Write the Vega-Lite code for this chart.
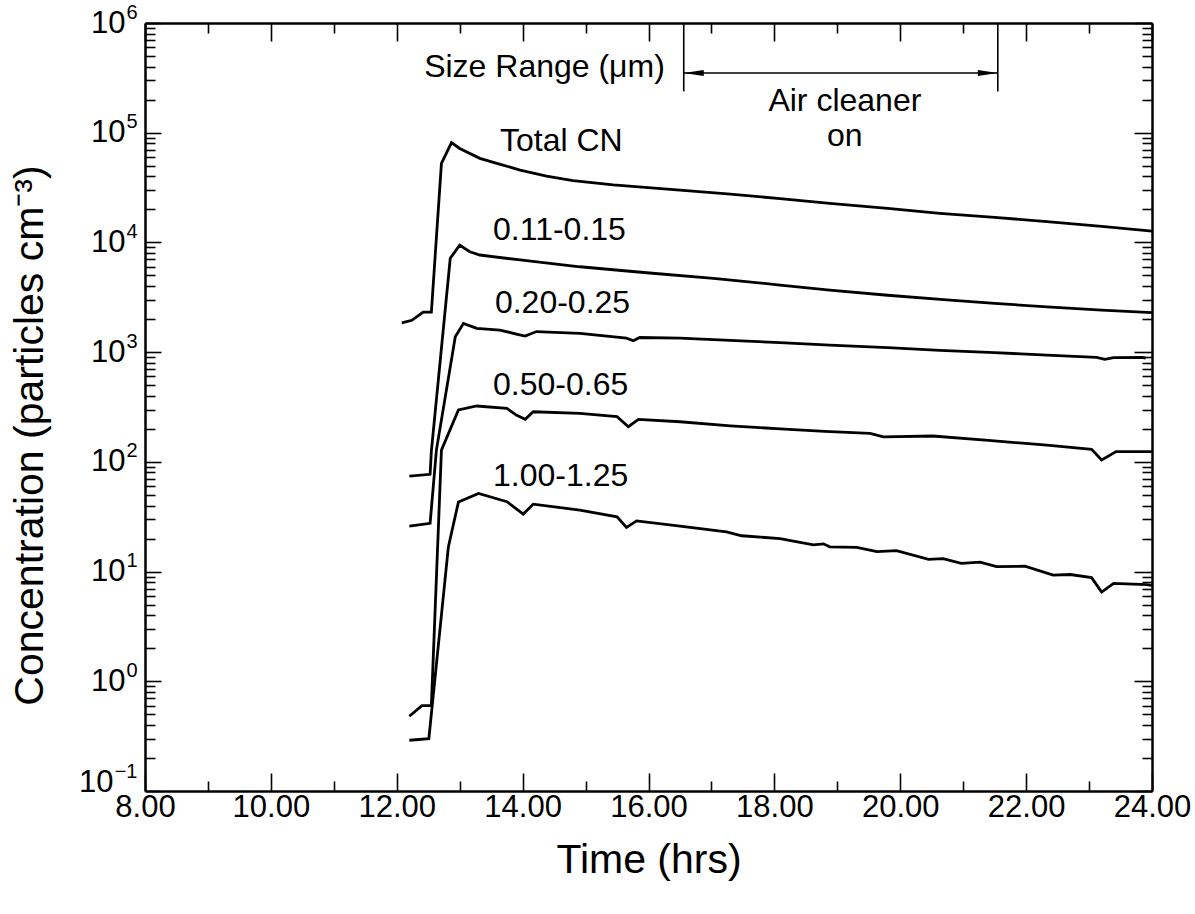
{
  "$schema": "https://vega.github.io/schema/vega-lite/v6.json",
  "width": 1007,
  "height": 768,
  "autosize": {"type": "none"},
  "padding": {"left": 145, "top": 23, "right": 43, "bottom": 123},
  "background": "white",
  "config": {
    "font": "Liberation Sans",
    "view": {"stroke": null},
    "axis": {"grid": false, "domainColor": "black", "tickColor": "black", "labelColor": "black", "titleColor": "black", "labelFont": "Liberation Sans", "titleFont": "Liberation Sans", "labelFontWeight": "normal", "titleFontWeight": "normal", "domainWidth": 2.5, "tickWidth": 1.6}
  },
  "datasets": {
    "series": [
      {"s": "Total CN", "t": 12.08, "c": 1850}, {"s": "Total CN", "t": 12.24, "c": 1950}, {"s": "Total CN", "t": 12.42, "c": 2320}, {"s": "Total CN", "t": 12.55, "c": 2320}, {"s": "Total CN", "t": 12.71, "c": 52600}, {"s": "Total CN", "t": 12.87, "c": 81100}, {"s": "Total CN", "t": 13.0, "c": 71900}, {"s": "Total CN", "t": 13.32, "c": 58400}, {"s": "Total CN", "t": 13.59, "c": 52600}, {"s": "Total CN", "t": 13.96, "c": 45700}, {"s": "Total CN", "t": 14.38, "c": 40300}, {"s": "Total CN", "t": 14.8, "c": 36500}, {"s": "Total CN", "t": 15.44, "c": 33400}, {"s": "Total CN", "t": 16.5, "c": 30000}, {"s": "Total CN", "t": 17.3, "c": 27500}, {"s": "Total CN", "t": 18.09, "c": 25100}, {"s": "Total CN", "t": 18.88, "c": 22700}, {"s": "Total CN", "t": 19.8, "c": 20400}, {"s": "Total CN", "t": 20.63, "c": 18400}, {"s": "Total CN", "t": 21.5, "c": 16900}, {"s": "Total CN", "t": 22.33, "c": 15500}, {"s": "Total CN", "t": 23.2, "c": 14000}, {"s": "Total CN", "t": 24.0, "c": 12700},
      {"s": "0.11-0.15", "t": 12.2, "c": 74}, {"s": "0.11-0.15", "t": 12.53, "c": 77}, {"s": "0.11-0.15", "t": 12.55, "c": 125}, {"s": "0.11-0.15", "t": 12.85, "c": 7170}, {"s": "0.11-0.15", "t": 13.0, "c": 9460}, {"s": "0.11-0.15", "t": 13.16, "c": 8230}, {"s": "0.11-0.15", "t": 13.32, "c": 7680}, {"s": "0.11-0.15", "t": 13.96, "c": 6920}, {"s": "0.11-0.15", "t": 14.91, "c": 6000}, {"s": "0.11-0.15", "t": 15.97, "c": 5290}, {"s": "0.11-0.15", "t": 17.03, "c": 4710}, {"s": "0.11-0.15", "t": 18.09, "c": 4090}, {"s": "0.11-0.15", "t": 18.88, "c": 3680}, {"s": "0.11-0.15", "t": 19.8, "c": 3300}, {"s": "0.11-0.15", "t": 20.74, "c": 2990}, {"s": "0.11-0.15", "t": 21.5, "c": 2780}, {"s": "0.11-0.15", "t": 22.33, "c": 2590}, {"s": "0.11-0.15", "t": 23.2, "c": 2420}, {"s": "0.11-0.15", "t": 24.0, "c": 2290},
      {"s": "0.20-0.25", "t": 12.2, "c": 26}, {"s": "0.20-0.25", "t": 12.53, "c": 27.5}, {"s": "0.20-0.25", "t": 12.63, "c": 128}, {"s": "0.20-0.25", "t": 12.93, "c": 1380}, {"s": "0.20-0.25", "t": 13.06, "c": 1830}, {"s": "0.20-0.25", "t": 13.27, "c": 1650}, {"s": "0.20-0.25", "t": 13.64, "c": 1590}, {"s": "0.20-0.25", "t": 13.9, "c": 1460}, {"s": "0.20-0.25", "t": 14.04, "c": 1400}, {"s": "0.20-0.25", "t": 14.22, "c": 1540}, {"s": "0.20-0.25", "t": 14.91, "c": 1480}, {"s": "0.20-0.25", "t": 15.65, "c": 1340}, {"s": "0.20-0.25", "t": 15.76, "c": 1270}, {"s": "0.20-0.25", "t": 15.86, "c": 1360}, {"s": "0.20-0.25", "t": 16.5, "c": 1340}, {"s": "0.20-0.25", "t": 17.3, "c": 1280}, {"s": "0.20-0.25", "t": 18.09, "c": 1220}, {"s": "0.20-0.25", "t": 18.88, "c": 1160}, {"s": "0.20-0.25", "t": 19.8, "c": 1100}, {"s": "0.20-0.25", "t": 20.63, "c": 1040}, {"s": "0.20-0.25", "t": 21.5, "c": 990}, {"s": "0.20-0.25", "t": 22.33, "c": 940}, {"s": "0.20-0.25", "t": 23.12, "c": 896}, {"s": "0.20-0.25", "t": 23.25, "c": 860}, {"s": "0.20-0.25", "t": 23.39, "c": 890}, {"s": "0.20-0.25", "t": 23.84, "c": 896}, {"s": "0.20-0.25", "t": 23.9, "c": 880},
      {"s": "0.50-0.65", "t": 12.2, "c": 0.48}, {"s": "0.50-0.65", "t": 12.4, "c": 0.6}, {"s": "0.50-0.65", "t": 12.55, "c": 0.6}, {"s": "0.50-0.65", "t": 12.71, "c": 128}, {"s": "0.50-0.65", "t": 12.98, "c": 297}, {"s": "0.50-0.65", "t": 13.27, "c": 323}, {"s": "0.50-0.65", "t": 13.75, "c": 307}, {"s": "0.50-0.65", "t": 13.9, "c": 267}, {"s": "0.50-0.65", "t": 14.04, "c": 244}, {"s": "0.50-0.65", "t": 14.17, "c": 286}, {"s": "0.50-0.65", "t": 14.91, "c": 277}, {"s": "0.50-0.65", "t": 15.5, "c": 258}, {"s": "0.50-0.65", "t": 15.68, "c": 209}, {"s": "0.50-0.65", "t": 15.84, "c": 244}, {"s": "0.50-0.65", "t": 16.5, "c": 232}, {"s": "0.50-0.65", "t": 17.3, "c": 213}, {"s": "0.50-0.65", "t": 18.09, "c": 200}, {"s": "0.50-0.65", "t": 18.8, "c": 190}, {"s": "0.50-0.65", "t": 19.52, "c": 182}, {"s": "0.50-0.65", "t": 19.73, "c": 169}, {"s": "0.50-0.65", "t": 20.52, "c": 172}, {"s": "0.50-0.65", "t": 21.4, "c": 157}, {"s": "0.50-0.65", "t": 22.33, "c": 142}, {"s": "0.50-0.65", "t": 23.04, "c": 130}, {"s": "0.50-0.65", "t": 23.2, "c": 104}, {"s": "0.50-0.65", "t": 23.43, "c": 124}, {"s": "0.50-0.65", "t": 24.0, "c": 124},
      {"s": "1.00-1.25", "t": 12.2, "c": 0.29}, {"s": "1.00-1.25", "t": 12.51, "c": 0.3}, {"s": "1.00-1.25", "t": 12.82, "c": 16.8}, {"s": "1.00-1.25", "t": 12.98, "c": 43}, {"s": "1.00-1.25", "t": 13.3, "c": 51.6}, {"s": "1.00-1.25", "t": 13.75, "c": 43.3}, {"s": "1.00-1.25", "t": 14.01, "c": 33.4}, {"s": "1.00-1.25", "t": 14.17, "c": 41.2}, {"s": "1.00-1.25", "t": 14.91, "c": 36.3}, {"s": "1.00-1.25", "t": 15.5, "c": 31.6}, {"s": "1.00-1.25", "t": 15.65, "c": 25.3}, {"s": "1.00-1.25", "t": 15.81, "c": 29}, {"s": "1.00-1.25", "t": 16.5, "c": 26}, {"s": "1.00-1.25", "t": 17.24, "c": 23}, {"s": "1.00-1.25", "t": 17.48, "c": 21.2}, {"s": "1.00-1.25", "t": 18.09, "c": 20}, {"s": "1.00-1.25", "t": 18.62, "c": 17.5}, {"s": "1.00-1.25", "t": 18.78, "c": 17.9}, {"s": "1.00-1.25", "t": 18.88, "c": 16.8}, {"s": "1.00-1.25", "t": 19.31, "c": 16.6}, {"s": "1.00-1.25", "t": 19.63, "c": 15.2}, {"s": "1.00-1.25", "t": 19.94, "c": 15.5}, {"s": "1.00-1.25", "t": 20.45, "c": 12.9}, {"s": "1.00-1.25", "t": 20.68, "c": 13.1}, {"s": "1.00-1.25", "t": 20.97, "c": 11.9}, {"s": "1.00-1.25", "t": 21.27, "c": 12.2}, {"s": "1.00-1.25", "t": 21.53, "c": 11.1}, {"s": "1.00-1.25", "t": 21.98, "c": 11.2}, {"s": "1.00-1.25", "t": 22.43, "c": 9.3}, {"s": "1.00-1.25", "t": 22.7, "c": 9.4}, {"s": "1.00-1.25", "t": 23.04, "c": 8.8}, {"s": "1.00-1.25", "t": 23.2, "c": 6.5}, {"s": "1.00-1.25", "t": 23.39, "c": 7.8}, {"s": "1.00-1.25", "t": 23.91, "c": 7.6}, {"s": "1.00-1.25", "t": 24.0, "c": 7.5}
    ],
    "labelsLeft": [
      {"label": "Total CN", "t": 13.64, "c": 84500},
      {"label": "0.11-0.15", "t": 13.53, "c": 13060},
      {"label": "0.20-0.25", "t": 13.56, "c": 2800},
      {"label": "0.50-0.65", "t": 13.53, "c": 505},
      {"label": "1.00-1.25", "t": 13.53, "c": 73.6}
    ],
    "labelsRight": [
      {"label": "Size Range (μm)", "t": 16.26, "c": 400000}
    ],
    "labelsCenter": [
      {"label": "Air cleaner", "t": 19.12, "c": 192800},
      {"label": "on", "t": 19.12, "c": 92500}
    ],
    "bars": [
      {"t": 16.56, "top": 1000000, "bottom": 237900},
      {"t": 21.55, "top": 1000000, "bottom": 237900}
    ],
    "arrow": [
      {"t": 16.56, "t2": 21.55, "c": 349800}
    ],
    "heads": [
      {"t": 16.56, "c": 349800, "dir": "left"},
      {"t": 21.55, "c": 349800, "dir": "right"}
    ]
  },
  "resolve": {"axis": {"x": "independent", "y": "independent"}},
  "layer": [
    {
      "data": {"name": "series"},
      "mark": {"type": "line", "color": "black", "strokeWidth": 2.8, "strokeJoin": "miter"},
      "encoding": {
        "x": {"field": "t", "type": "quantitative", "scale": {"domain": [8, 24], "nice": false, "zero": false},
          "axis": {"orient": "bottom", "values": [8, 10, 12, 14, 16, 18, 20, 22, 24], "format": ".2f", "tickSize": -18, "labelPadding": 19, "labelFontSize": 31, "title": "Time (hrs)", "titleFontSize": 41, "titleY": 69, "titleBaseline": "middle", "labelFlush": false, "labelOverlap": false}},
        "y": {"field": "c", "type": "quantitative", "scale": {"type": "log", "domain": [0.1, 1000000], "nice": false},
          "axis": {"orient": "left", "values": [0.1, 1, 10, 100, 1000, 10000, 100000, 1000000], "labelExpr": "'10'", "tickSize": -16, "labelPadding": {"condition": {"test": "datum.value < 0.5", "value": 48}, "value": 36}, "labelOffset": {"condition": {"test": "datum.value < 0.5", "value": -9}, "value": 0}, "labelFontSize": 31, "title": "Concentration (particles cm⁻³)", "titleFontSize": 41, "titleX": -115, "titleY": 412, "titleBaseline": "middle", "titleAngle": -90, "labelFlush": false, "labelOverlap": false}},
        "detail": {"field": "s"}
      }
    },
    {
      "data": {"name": "series"},
      "mark": {"type": "line", "strokeOpacity": 0},
      "encoding": {
        "x": {"field": "t", "type": "quantitative",
          "axis": {"orient": "bottom", "values": [9, 11, 13, 15, 17, 19, 21, 23], "tickSize": -10, "labels": false, "domain": false, "title": null}},
        "y": {"field": "c", "type": "quantitative",
          "axis": {"orient": "left", "values": [0.2, 0.3, 0.4, 0.5, 0.6, 0.7, 0.8, 0.9, 2, 3, 4, 5, 6, 7, 8, 9, 20, 30, 40, 50, 60, 70, 80, 90, 200, 300, 400, 500, 600, 700, 800, 900, 2000, 3000, 4000, 5000, 6000, 7000, 8000, 9000, 20000, 30000, 40000, 50000, 60000, 70000, 80000, 90000, 200000, 300000, 400000, 500000, 600000, 700000, 800000, 900000], "tickSize": -10, "labels": false, "domain": false, "title": null}},
        "detail": {"field": "s"}
      }
    },
    {
      "data": {"name": "series"},
      "mark": {"type": "line", "strokeOpacity": 0},
      "encoding": {
        "x": {"field": "t", "type": "quantitative",
          "axis": {"orient": "top", "values": [8, 10, 12, 14, 16, 18, 20, 22, 24], "tickSize": -18, "labels": false, "title": null}},
        "y": {"field": "c", "type": "quantitative",
          "axis": {"orient": "right", "values": [0.1, 1, 10, 100, 1000, 10000, 100000, 1000000], "tickSize": -18, "labels": false, "title": null}},
        "detail": {"field": "s"}
      }
    },
    {
      "data": {"name": "series"},
      "mark": {"type": "line", "strokeOpacity": 0},
      "encoding": {
        "x": {"field": "t", "type": "quantitative",
          "axis": {"orient": "top", "values": [9, 11, 13, 15, 17, 19, 21, 23], "tickSize": -10, "labels": false, "domain": false, "title": null}},
        "y": {"field": "c", "type": "quantitative",
          "axis": {"orient": "right", "values": [0.2, 0.3, 0.4, 0.5, 0.6, 0.7, 0.8, 0.9, 2, 3, 4, 5, 6, 7, 8, 9, 20, 30, 40, 50, 60, 70, 80, 90, 200, 300, 400, 500, 600, 700, 800, 900, 2000, 3000, 4000, 5000, 6000, 7000, 8000, 9000, 20000, 30000, 40000, 50000, 60000, 70000, 80000, 90000, 200000, 300000, 400000, 500000, 600000, 700000, 800000, 900000], "tickSize": -10, "labels": false, "domain": false, "title": null}},
        "detail": {"field": "s"}
      }
    },
    {
      "data": {"name": "series"},
      "mark": {"type": "line", "strokeOpacity": 0},
      "encoding": {
        "x": {"field": "t", "type": "quantitative", "axis": null},
        "y": {"field": "c", "type": "quantitative",
          "axis": {"orient": "left", "values": [0.1, 1, 10, 100, 1000, 10000, 100000, 1000000], "labelExpr": "['−1','0','1','2','3','4','5','6'][round(log(datum.value)/LN10)+1]", "ticks": false, "tickSize": 0, "domain": false, "labelPadding": 8, "labelFontSize": 20, "labelOffset": {"condition": {"test": "datum.value < 0.5", "value": -20}, "value": -11}, "title": null, "labelFlush": false, "labelOverlap": false}},
        "detail": {"field": "s"}
      }
    },
    {
      "data": {"name": "labelsLeft"},
      "mark": {"type": "text", "align": "left", "baseline": "middle", "fontSize": 32, "font": "Liberation Sans", "color": "black"},
      "encoding": {
        "x": {"field": "t", "type": "quantitative", "axis": null},
        "y": {"field": "c", "type": "quantitative", "axis": null},
        "text": {"field": "label"}
      }
    },
    {
      "data": {"name": "labelsRight"},
      "mark": {"type": "text", "align": "right", "baseline": "middle", "fontSize": 32, "font": "Liberation Sans", "color": "black"},
      "encoding": {
        "x": {"field": "t", "type": "quantitative", "axis": null},
        "y": {"field": "c", "type": "quantitative", "axis": null},
        "text": {"field": "label"}
      }
    },
    {
      "data": {"name": "labelsCenter"},
      "mark": {"type": "text", "align": "center", "baseline": "middle", "fontSize": 32, "font": "Liberation Sans", "color": "black"},
      "encoding": {
        "x": {"field": "t", "type": "quantitative", "axis": null},
        "y": {"field": "c", "type": "quantitative", "axis": null},
        "text": {"field": "label"}
      }
    },
    {
      "data": {"name": "bars"},
      "mark": {"type": "rule", "color": "black", "strokeWidth": 1.6},
      "encoding": {
        "x": {"field": "t", "type": "quantitative", "axis": null},
        "y": {"field": "top", "type": "quantitative", "axis": null},
        "y2": {"field": "bottom"}
      }
    },
    {
      "data": {"name": "arrow"},
      "mark": {"type": "rule", "color": "black", "strokeWidth": 1.6},
      "encoding": {
        "x": {"field": "t", "type": "quantitative", "axis": null},
        "x2": {"field": "t2"},
        "y": {"field": "c", "type": "quantitative", "axis": null}
      }
    },
    {
      "data": {"name": "heads"},
      "mark": {"type": "point", "filled": true, "color": "black", "opacity": 1, "size": 400},
      "encoding": {
        "x": {"field": "t", "type": "quantitative", "axis": null},
        "y": {"field": "c", "type": "quantitative", "axis": null},
        "shape": {"field": "dir", "type": "nominal", "legend": null,
          "scale": {"domain": ["left", "right"], "range": ["M0,0L2,-0.3L2,0.3Z", "M0,0L-2,-0.3L-2,0.3Z"]}}
      }
    }
  ]
}
